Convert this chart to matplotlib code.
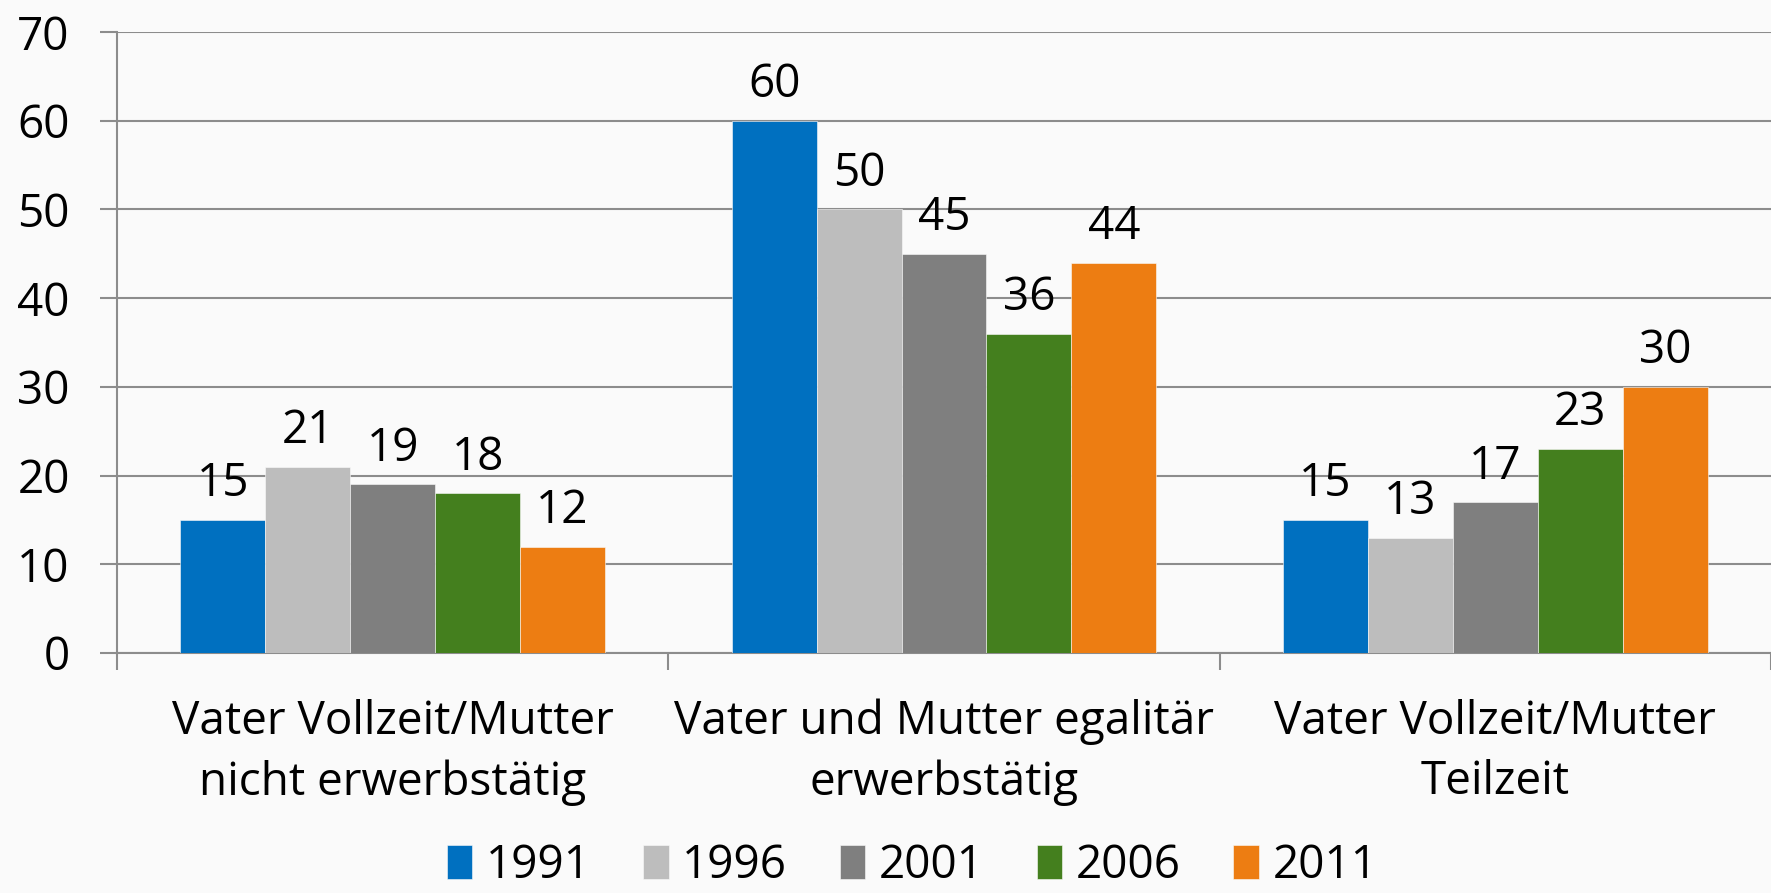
import numpy as np
import matplotlib.pyplot as plt

# data
categories = ["Vater Vollzeit/Mutter\nnicht erwerbstätig",
              "Vater und Mutter egalitär\nerwerbstätig",
              "Vater Vollzeit/Mutter\nTeilzeit"]
years = ["1991", "1996", "2001", "2006", "2011"]
values_1991 = [15, 60, 15]
values_1996 = [21, 50, 13]
values_2001 = [19, 45, 17]
values_2006 = [18, 36, 23]
values_2011 = [12, 44, 30]
series = [values_1991, values_1996, values_2001, values_2006, values_2011]
colors = ["#0070C0", "#BDBDBD", "#7F7F7F", "#447F1E", "#ED7D12"]

plt.rcParams['font.family'] = ['Open Sans', 'DejaVu Sans']
bg = "#FAFAFA"
grid_col = "#8C8C8C"
fs = 33

W, H = 1771, 893
fig = plt.figure(figsize=(W / 100, H / 100), dpi=100, facecolor=bg)
# axes in pixel terms: left 117, right 1771, top 32, bottom 653
ax = fig.add_axes([117 / W, 1 - 653 / H, (W - 117) / W, (653 - 32) / H])
ax.set_facecolor(bg)

x = np.arange(len(categories))
bar_w = 0.154
for i, (vals, col, yr) in enumerate(zip(series, colors, years)):
    pos = x + (i - 2) * bar_w
    bars = ax.bar(pos, vals, width=bar_w, color=col, label=yr,
                  edgecolor=bg, linewidth=0.4, zorder=3)
    for b, v in zip(bars, vals):
        ax.annotate(str(v), (b.get_x() + b.get_width() / 2, v),
                    xytext=(0, 9), textcoords="offset points",
                    ha="center", va="bottom", fontsize=fs, color="black")

ax.set_ylim(0, 70)
ax.set_xlim(-0.5, -0.5 + (W - 117) / 555)
ax.set_yticks(range(0, 71, 10))
ax.yaxis.grid(True, color=grid_col, linewidth=1.5, zorder=0)
ax.tick_params(axis="y", length=12, width=1.5, color=grid_col,
               labelsize=fs, pad=22)

# category boundaries as ticks, labels on minor ticks at centres
ax.set_xticks([-0.5, 0.5, 1.5, 2.5])
ax.set_xticklabels([])
ax.tick_params(axis="x", which="major", length=12, width=1.5, color=grid_col)
ax.set_xticks(x, minor=True)
ax.set_xticklabels(categories, minor=True, fontsize=fs, linespacing=1.4)
ax.tick_params(axis="x", which="minor", length=0, pad=33)

for s in ["top", "right"]:
    ax.spines[s].set_visible(False)
ax.spines["left"].set_color(grid_col)
ax.spines["left"].set_linewidth(1.5)
ax.spines["bottom"].set_color(grid_col)
ax.spines["bottom"].set_linewidth(1.5)

fig.legend(loc="center", bbox_to_anchor=(912 / W, 1 - 866 / H), ncol=5,
           frameon=False, fontsize=33, handlelength=0.55, handleheight=0.75,
           handletextpad=0.3, columnspacing=1.15, borderpad=0.1)

fig.savefig("out.png", dpi=100, facecolor=bg)
